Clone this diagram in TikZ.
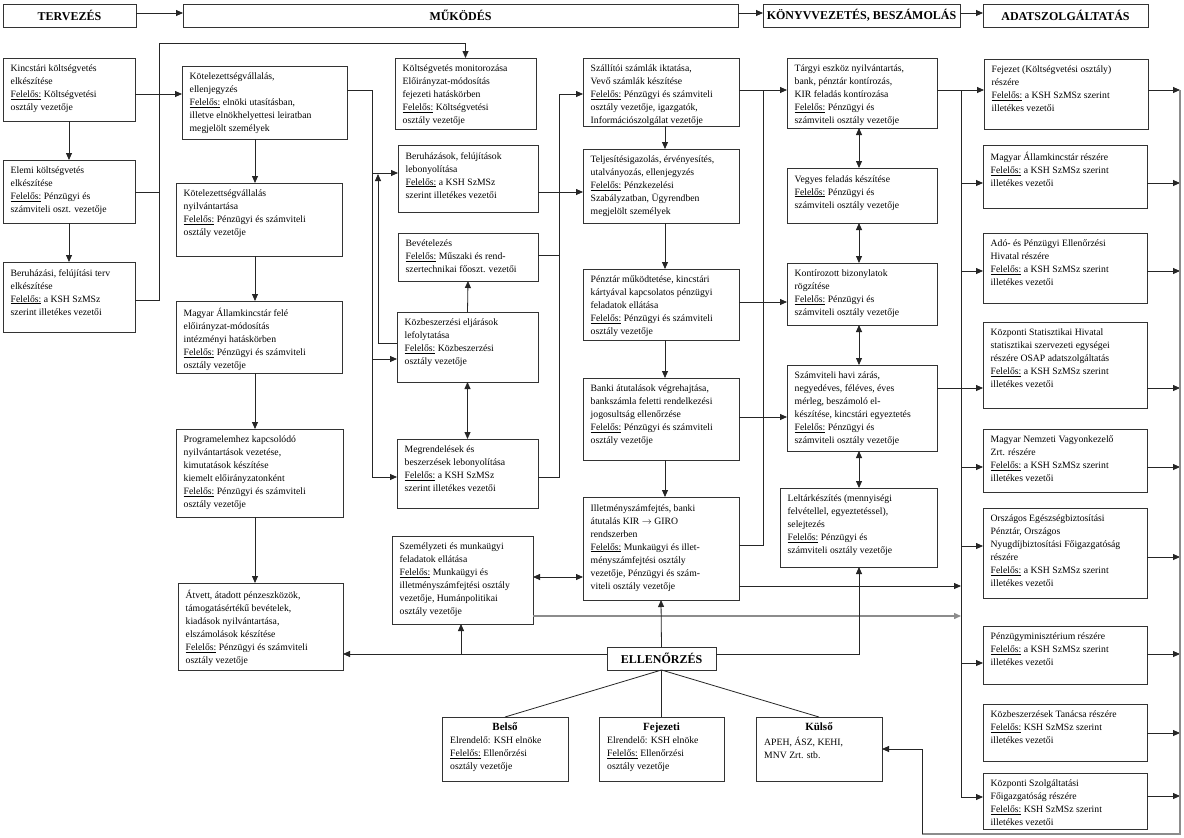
\documentclass[tikz,border=0pt]{standalone}
\usepackage{fontspec}
\setmainfont{Liberation Serif}
\usetikzlibrary{arrows.meta,calc}
\newcommand\fel{\underline{Felelős:}}
\tikzset{
  boxst/.style={draw=black!80, line width=0.8pt, rectangle, inner sep=0pt, outer sep=0pt, fill=white},
  txt/.style={inner sep=0pt, align=left, anchor=north west, font=\fontsize{9.7pt}{13pt}\selectfont},
  hdtxt/.style={inner sep=0pt, font=\fontsize{12pt}{14pt}\selectfont\bfseries},
  ttxt/.style={inner sep=0pt, font=\fontsize{11pt}{13pt}\selectfont\bfseries},
  con/.style={draw=black!85, line width=0.8pt},
  arr/.style={con, -{Triangle[length=7pt,width=6pt]}},
  darr/.style={con, {Triangle[length=7pt,width=6pt]}-{Triangle[length=7pt,width=6pt]}},
  gcon/.style={draw=black!45, line width=1.4pt},
}
\newcommand\bx[6]{%
  \node[boxst, anchor=north west, minimum width={(#4-#2)*1pt}, minimum height={(#5-#3)*1pt}] (#1) at (#2,#3) {};
  \node[txt] (#1-t) at (#2+7.5,#3+7) {#6};
}
\newcommand\hb[6]{%
  \node[boxst, anchor=north west, minimum width={(#4-#2)*1pt}, minimum height={(#5-#3)*1pt}] (#1) at (#2,#3) {};
  \node[hdtxt] (#1-t) at (#1.center) {#6};
}
\newcommand\cb[7]{%
  \node[boxst, anchor=north west, minimum width={(#4-#2)*1pt}, minimum height={(#5-#3)*1pt}] (#1) at (#2,#3) {};
  \node[ttxt, anchor=north] (#1-h) at ($(#1.north)+(0,6)$) {#6};
  \node[txt] (#1-t) at (#2+8,#3+20) {#7};
}
\begin{document}
\begin{tikzpicture}[x=1pt,y=-1pt]
\useasboundingbox (0,0) rectangle (1184,838);
\fill[white] (0,0) rectangle (1184,838);

% headers
\hb{h1}{3}{4}{136}{27}{TERVEZÉS}
\hb{h2}{183}{4}{738}{27}{MŰKÖDÉS}
\hb{h3}{763}{4}{960}{27}{KÖNYVVEZETÉS, BESZÁMOLÁS}
\hb{h4}{983}{4}{1148}{27}{ADATSZOLGÁLTATÁS}

% column 1
\bx{kin}{3}{58}{135}{121}{Kincstári költségvetés\\elkészítése\\\fel{} Költségvetési\\osztály vezetője}
\bx{elem}{3}{160}{135}{223}{Elemi költségvetés\\elkészítése\\\fel{} Pénzügyi és\\számviteli oszt. vezetője}
\bx{beru}{3}{262}{135}{332}{Beruházási, felújítási terv\\elkészítése\\\fel{} a KSH SzMSz\\szerint illetékes vezetői}

% column 2
\bx{kv1}{182}{66}{347}{139}{Kötelezettségvállalás,\\ellenjegyzés\\\fel{} elnöki utasításban,\\illetve elnökhelyettesi leiratban\\megjelölt személyek}
\bx{kv2}{176}{183}{342}{256}{Kötelezettségvállalás\\nyilvántartása\\\fel{} Pénzügyi és számviteli\\osztály vezetője}
\bx{mak}{176}{301}{342}{373}{Magyar Államkincstár felé\\előirányzat-módosítás\\intézményi hatáskörben\\\fel{} Pénzügyi és számviteli\\osztály vezetője}
\bx{prog}{176}{429}{343}{517}{Programelemhez kapcsolódó\\nyilvántartások vezetése,\\kimutatások készítése\\kiemelt előirányzatonként\\\fel{} Pénzügyi és számviteli\\osztály vezetője}
\bx{atv}{178}{583}{343}{670}{Átvett, átadott pénzeszközök,\\támogatásértékű bevételek,\\kiadások nyilvántartása,\\elszámolások készítése\\\fel{} Pénzügyi és számviteli\\osztály vezetője}

% column 3
\bx{kmon}{395}{58}{536}{129}{Költségvetés monitorozása\\Előirányzat-módosítás\\fejezeti hatáskörben\\\fel{} Költségvetési\\osztály vezetője}
\bx{bfl}{398}{145}{538}{212}{Beruházások, felújítások\\lebonyolítása\\\fel{} a KSH SzMSz\\szerint illetékes vezetői}
\bx{bev}{398}{233}{538}{281}{Bevételezés\\\fel{} Műszaki és rend-\\szertechnikai főoszt. vezetői}
\bx{kozb}{397}{312}{538}{382}{Közbeszerzési eljárások\\lefolytatása\\\fel{} Közbeszerzési\\osztály vezetője}
\bx{megr}{397}{439}{538}{508}{Megrendelések és\\beszerzések lebonyolítása\\\fel{} a KSH SzMSz\\szerint illetékes vezetői}
\bx{szem}{392}{536}{533}{624}{Személyzeti és munkaügyi\\feladatok ellátása\\\fel{} Munkaügyi és\\illetményszámfejtési osztály\\vezetője, Humánpolitikai\\osztály vezetője}

% column 4
\bx{szal}{583}{58}{739}{126}{Szállítói számlák iktatása,\\Vevő számlák készítése\\\fel{} Pénzügyi és számviteli\\osztály vezetője, igazgatók,\\Információszolgálat vezetője}
\bx{telj}{583}{149}{739}{223}{Teljesítésigazolás, érvényesítés,\\utalványozás, ellenjegyzés\\\fel{} Pénzkezelési\\Szabályzatban, Ügyrendben\\megjelölt személyek}
\bx{penz}{583}{269}{739}{340}{Pénztár működtetése, kincstári\\kártyával kapcsolatos pénzügyi\\feladatok ellátása\\\fel{} Pénzügyi és számviteli\\osztály vezetője}
\bx{bank}{583}{378}{739}{460}{Banki átutalások végrehajtása,\\bankszámla feletti rendelkezési\\jogosultság ellenőrzése\\\fel{} Pénzügyi és számviteli\\osztály vezetője}
\bx{ilm}{583}{497}{739}{600}{Illetményszámfejtés, banki\\átutalás KIR $\rightarrow$ GIRO\\rendszerben\\\fel{} Munkaügyi és illet-\\ményszámfejtési osztály\\vezetője, Pénzügyi és szám-\\viteli osztály vezetője}

% column 5
\bx{targy}{787}{58}{937}{128}{Tárgyi eszköz nyilvántartás,\\bank, pénztár kontírozás,\\KIR feladás kontírozása\\\fel{} Pénzügyi és\\számviteli osztály vezetője}
\bx{vegy}{787}{168}{937}{223}{Vegyes feladás készítése\\\fel{} Pénzügyi és\\számviteli osztály vezetője}
\bx{kont}{787}{263}{937}{325}{Kontírozott bizonylatok\\rögzítése\\\fel{} Pénzügyi és\\számviteli osztály vezetője}
\bx{szam}{787}{365}{937}{451}{Számviteli havi zárás,\\negyedéves, féléves, éves\\mérleg, beszámoló el-\\készítése, kincstári egyeztetés\\\fel{} Pénzügyi és\\számviteli osztály vezetője}
\bx{lelt}{780}{488}{937}{567}{Leltárkészítés (mennyiségi\\felvétellel, egyeztetéssel),\\selejtezés\\\fel{} Pénzügyi és\\számviteli osztály vezetője}

% column 6
\bx{fej}{984}{59}{1148}{129}{Fejezet (Költségvetési osztály)\\részére\\\fel{} a KSH SzMSz szerint\\illetékes vezetői}
\bx{mak2}{983}{145}{1147}{208}{Magyar Államkincstár részére\\\fel{} a KSH SzMSz szerint\\illetékes vezetői}
\bx{ado}{983}{233}{1147}{303}{Adó- és Pénzügyi Ellenőrzési\\Hivatal részére\\\fel{} a KSH SzMSz szerint\\illetékes vezetői}
\bx{ksh}{983}{322}{1147}{408}{Központi Statisztikai Hivatal\\statisztikai szervezeti egységei\\részére OSAP adatszolgáltatás\\\fel{} a KSH SzMSz szerint\\illetékes vezetői}
\bx{mnv}{983}{429}{1147}{492}{Magyar Nemzeti Vagyonkezelő\\Zrt. részére\\\fel{} a KSH SzMSz szerint\\illetékes vezetői}
\bx{oep}{983}{508}{1147}{598}{Országos Egészségbiztosítási\\Pénztár, Országos\\Nyugdíjbiztosítási Főigazgatóság\\részére\\\fel{} a KSH SzMSz szerint\\illetékes vezetői}
\bx{pm}{983}{626}{1147}{684}{Pénzügyminisztérium részére\\\fel{} a KSH SzMSz szerint\\illetékes vezetői}
\bx{kt}{983}{704}{1147}{761}{Közbeszerzések Tanácsa részére\\\fel{} KSH SzMSz szerint\\illetékes vezetői}
\bx{ksz}{983}{773}{1147}{829}{Központi Szolgáltatási\\Főigazgatóság részére\\\fel{} KSH SzMSz szerint\\illetékes vezetői}

% bottom
\hb{ell}{607}{647}{716}{670}{ELLENŐRZÉS}
\cb{bel}{442}{717}{568}{781}{Belső}{Elrendelő: KSH elnöke\\\fel{} Ellenőrzési\\osztály vezetője}
\cb{fjz}{599}{717}{724}{781}{Fejezeti}{Elrendelő: KSH elnöke\\\fel{} Ellenőrzési\\osztály vezetője}
\cb{kul}{756}{717}{882}{781}{Külső}{APEH, ÁSZ, KEHI,\\MNV Zrt. stb.}

% ---------- connectors ----------
\draw[arr] (h1.east |- 0,13) -- (h2.west |- 0,13);
\draw[arr] (h2.east |- 0,13) -- (h3.west |- 0,13);
\draw[arr] (h3.east |- 0,13) -- (h4.west |- 0,13);

% column 1
\draw[arr] (kin.south) -- (elem.north);
\draw[arr] (elem.south) -- (beru.north);
\draw[arr] (kin.east |- 0,94) -- (kv1.west |- 0,94);
\coordinate (j1t) at (159,43);
\coordinate (j1b) at (159,300);
\draw[con] (elem.east |- 0,192) -- (j1t |- 0,192);
\draw[arr] (beru.east |- j1b) -- (j1b) -- (j1t) -- (kmon.north |- j1t) -- (kmon.north);

% column 2
\draw[arr] (kv1.south -| 255,0) -- (kv2.north -| 255,0);
\draw[arr] (kv2.south -| 255,0) -- (mak.north -| 255,0);
\draw[arr] (mak.south -| 255,0) -- (prog.north -| 255,0);
\draw[arr] (prog.south -| 255,0) -- (atv.north -| 255,0);
\coordinate (j2t) at (372,90);
\coordinate (j2b) at (372,477);
\draw[arr] (kv1.east |- j2t) -- (j2t) -- (j2b) -- (megr.west |- j2b);
\draw[arr] (j2t |- 0,173) -- (bfl.west |- 0,173);
\draw[arr] (j2t |- 0,359) -- (kozb.west |- 0,359);
\coordinate (j2c) at (378,343);
\draw[arr] (kozb.west |- j2c) -- (j2c) -- (j2c |- 0,174);

% column 3
\draw[arr] (kozb.north) -- (bev.south);
\draw[darr] (kozb.south) -- (megr.north);
\draw[arr] (bfl.east |- 0,192) -- (telj.west |- 0,192);
\coordinate (j3t) at (559,94);
\coordinate (j3b) at (559,477);
\draw[arr] (megr.east |- j3b) -- (j3b) -- (j3t) -- (szal.west |- j3t);
\draw[con] (bev.east |- 0,255) -- (j3t |- 0,255);

% column 4
\draw[arr] (szal.south -| 665,0) -- (telj.north -| 665,0);
\draw[arr] (telj.south -| 665,0) -- (penz.north -| 665,0);
\draw[arr] (penz.south -| 665,0) -- (bank.north -| 665,0);
\draw[arr] (bank.south -| 665,0) -- (ilm.north -| 665,0);
\coordinate (j4t) at (763,90);
\coordinate (j4b) at (763,545);
\draw[arr] (ilm.east |- j4b) -- (j4b) -- (j4t) -- (targy.west |- j4t);
\draw[con] (szal.east |- j4t) -- (j4t);
\draw[arr] (penz.east |- 0,302) -- (kont.west |- 0,302);
\draw[arr] (bank.east |- 0,417) -- (szam.west |- 0,417);

% column 5
\draw[darr] (targy.south -| 859,0) -- (vegy.north -| 859,0);
\draw[darr] (vegy.south -| 859,0) -- (kont.north -| 859,0);
\draw[darr] (kont.south -| 859,0) -- (szam.north -| 859,0);
\draw[darr] (szam.south -| 859,0) -- (lelt.north -| 859,0);

% to column 6
\coordinate (j5t) at (961,90);
\coordinate (j5b) at (961,797);
\draw[con] (targy.east |- j5t) -- (j5t);
\draw[arr] (j5t) -- (j5b) -- (ksz.west |- j5b);
\draw[arr] (j5t) -- (fej.west |- j5t);
\draw[arr] (j5t |- 0,183) -- (mak2.west |- 0,183);
\draw[arr] (j5t |- 0,271) -- (ado.west |- 0,271);
\draw[arr] (j5t |- 0,388) -- (ksh.west |- 0,388);
\draw[arr] (j5t |- 0,467) -- (mnv.west |- 0,467);
\draw[arr] (j5t |- 0,546) -- (oep.west |- 0,546);
\draw[arr] (j5t |- 0,663) -- (pm.west |- 0,663);
\draw[con] (szam.east |- 0,388) -- (j5t |- 0,388);
\draw[arr] (ilm.east |- 0,586) -- (j5t |- 0,586);
\draw[gcon, -{Triangle[length=7pt,width=6pt]}] (szem.east |- 0,616) -- (j5t |- 0,616);

% right side
\coordinate (j6t) at (1180,90);
\coordinate (j6b) at (1180,834);
\coordinate (j7) at (922,834);
\draw[arr] (fej.east |- 0,90) -- (j6t |- 0,90);
\draw[arr] (mak2.east |- 0,183) -- (j6t |- 0,183);
\draw[arr] (ado.east |- 0,271) -- (j6t |- 0,271);
\draw[arr] (ksh.east |- 0,388) -- (j6t |- 0,388);
\draw[arr] (mnv.east |- 0,467) -- (j6t |- 0,467);
\draw[arr] (oep.east |- 0,557) -- (j6t |- 0,557);
\draw[arr] (pm.east |- 0,654) -- (j6t |- 0,654);
\draw[arr] (kt.east |- 0,733) -- (j6t |- 0,733);
\draw[arr] (ksz.east |- 0,796) -- (j6t |- 0,796);
\draw[gcon] (j6t) -- (j6b) -- (j7);
\draw[arr] (j7) -- (j7 |- 0,749) -- (kul.east |- 0,749);

% bottom
\draw[darr] (szem.east |- 0,577) -- (ilm.west |- 0,577);
\draw[arr] (ell.north) -- (ilm.south);
\coordinate (j8) at (461,654);
\draw[arr] (ell.west |- j8) -- (atv.east |- j8);
\draw[arr] (j8) -- (szem.south -| j8);
\coordinate (j9) at (859,654);
\draw[arr] (ell.east |- j9) -- (j9) -- (lelt.south -| j9);
\draw[con] (ell.south) -- (bel.north);
\draw[con] (ell.south) -- (fjz.north);
\draw[con] (ell.south) -- (kul.north);
\end{tikzpicture}
\end{document}
